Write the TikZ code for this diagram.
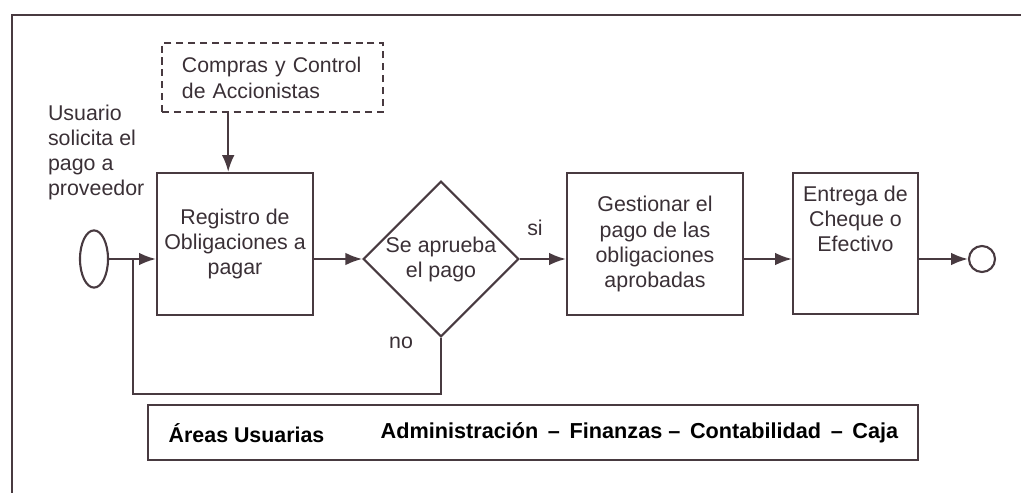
\documentclass[tikz,border=0pt]{standalone}
\usepackage{fontspec}
\setmainfont{Liberation Sans}
\usepackage{tikz}
\usetikzlibrary{shapes.geometric, arrows.meta, positioning}
\definecolor{lncol}{RGB}{72,58,64}
\definecolor{txtcol}{RGB}{58,48,54}
\tikzstyle{block} = [draw=lncol, fill=white, rectangle, line width=1.5pt, align=center, inner sep=0pt]
\tikzstyle{decide} = [draw=lncol, fill=white, diamond, line width=1.5pt, align=center, inner sep=0pt]
\tikzstyle{note} = [align=left, inner sep=0pt]
\newcommand{\txt}{\fontsize{15.2}{17.8}\selectfont}
\newcommand{\cmptxt}{\fontsize{15.1}{18.4}\selectfont}

\begin{document}
\begin{tikzpicture}[x=0.025cm, y=-0.025cm, >={Latex[length=12pt,width=9pt]},
    every node/.style={text=txtcol, font=\txt}, line width=1.5pt]
      \useasboundingbox (0,0) rectangle (1021,493);
      % marco
      \draw[lncol] (12,493) -- (12,15) -- (1021,15);
      % nodos
      \node[draw=lncol, ellipse, minimum width=0.7cm, minimum height=1.43cm, inner sep=0pt] (ini) at (94,259) {};
      \node[note, anchor=north west] (usr) at (47,104) {Usuario\\solicita el\\pago a\\proveedor};
      \node[block, minimum width=3.9cm, minimum height=3.55cm] (reg) at (235,244) {Registro de\\Obligaciones a\\pagar};
      \node[draw=lncol, dashed, dash pattern=on 5pt off 3.5pt, line width=1.3pt, align=left, inner xsep=0.5cm,
            text width=4.525cm, minimum height=1.73cm, font=\cmptxt] (cmp) at (272.5,77.5) {Compras y Control\\de Accionistas};
      \node[decide, minimum width=3.85cm, minimum height=2.82cm] (dec) at (441,259) {Se aprueba\\el pago};
      \node[block, minimum width=4.4cm, minimum height=3.55cm] (ges) at (655,244) {Gestionar el\\pago de las\\obligaciones\\aprobadas};
      \node[block, minimum width=3.125cm, minimum height=3.525cm] (ent) at (855.5,243.5) {};
      \node[align=center, below=0.2cm of ent.north] (enttxt) {Entrega de\\Cheque o\\Efectivo};
      \node[draw=lncol, circle, minimum size=0.65cm, inner sep=0pt] (fin) at (982,259) {};
      \node (si) at (535,228) {si};
      \node (no) at (401,343) {no};
      % areas
      \node[block, minimum width=19.25cm, minimum height=1.38cm] (areas) at (533,432.5) {};
      \node[anchor=west, font=\fontsize{15.2}{18}\selectfont\bfseries, text=black] (au) at (163,433) {Áreas Usuarias};
      \node[anchor=west, font=\fontsize{15.4}{18}\selectfont\bfseries, text=black] (adm) at (375,433) {Administración\, --\, Finanzas -- \,Contabilidad\, --\, Caja};
      % conectores
      \coordinate (join) at (133,259);
      \draw[lncol, ->] (ini.east) -- (ini.east -| reg.west);
      \draw[lncol] (dec.south) -- ++(0,56) -| (join);
      \draw[lncol, ->] ([xshift=-0.17cm]reg.north |- cmp.south) -- ([xshift=-0.17cm]reg.north);
      \draw[lncol, ->] (reg.east |- dec.west) -- (dec.west);
      \draw[lncol, ->] (dec.east) -- (dec.east -| ges.west);
      \draw[lncol, ->] (ges.east |- dec.east) -- (dec.east -| ent.west);
      \draw[lncol, ->] (ent.east |- fin.west) -- (fin.west);
    \end{tikzpicture}
\end{document}
